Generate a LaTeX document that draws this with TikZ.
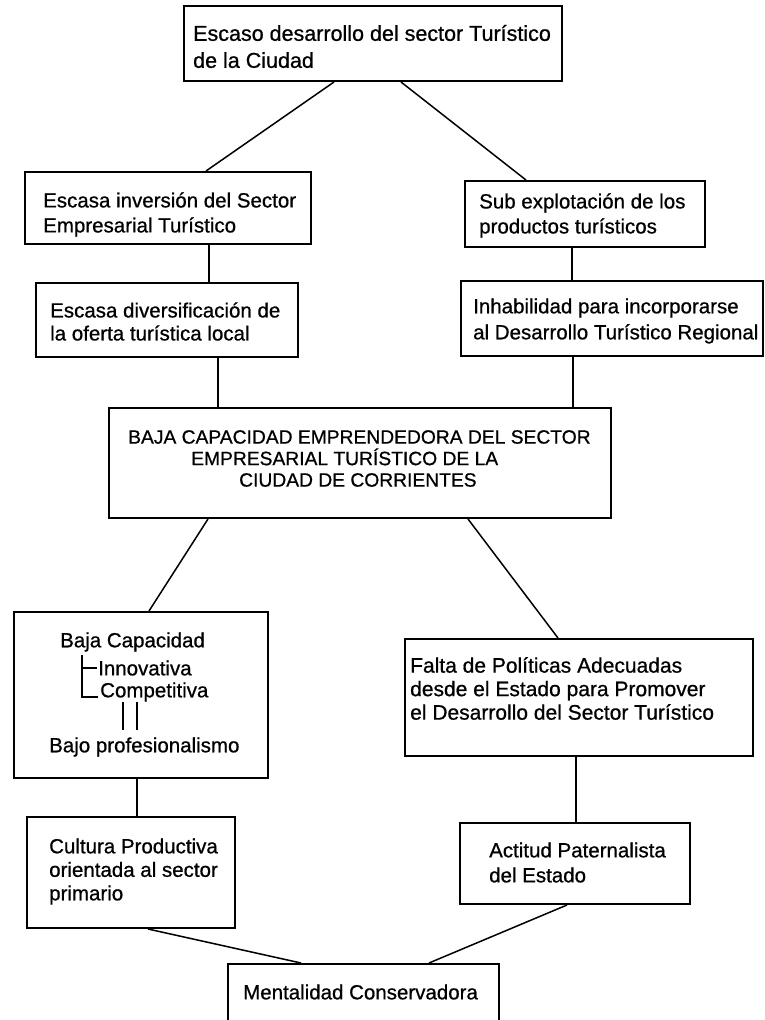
\documentclass[tikz,border=0pt]{standalone}
\usepackage{fontspec}
\setmainfont{Liberation Sans}[FakeBold=0.7]
\begin{document}
\begin{tikzpicture}[x=1pt,y=-1pt,
  box/.style={draw, line width=2pt, rectangle, inner sep=0pt, anchor=north west},
  txt/.style={anchor=west, inner sep=0pt, align=left, font=\fontsize{20.5}{25}\selectfont},
  capstxt/.style={anchor=west, inner sep=0pt, align=left, font=\fontsize{19.25}{21.5}\selectfont},
  link/.style={line width=1.5pt},
  treeline/.style={line width=1.5pt}]
\clip (0,0) rectangle (764,1020);
\fill[white] (0,0) rectangle (764,1020);
% boxes
\node[box, minimum width=378pt, minimum height=75pt] (top) at (183,5) {};
\node[box, minimum width=286pt, minimum height=72pt] (inv) at (24,171) {};
\node[box, minimum width=262pt, minimum height=74pt] (div) at (35,282) {};
\node[box, minimum width=240pt, minimum height=66pt] (sub) at (464,180) {};
\node[box, minimum width=302pt, minimum height=75pt] (inh) at (460,280) {};
\node[box, minimum width=502pt, minimum height=110pt] (cen) at (108,407) {};
\node[box, minimum width=254pt, minimum height=166pt] (baja) at (13,611) {};
\node[box, minimum width=348pt, minimum height=117pt] (falta) at (404,638) {};
\node[box, minimum width=208pt, minimum height=111pt] (cult) at (26,816) {};
\node[box, minimum width=230pt, minimum height=81pt] (acti) at (459,822) {};
\node[box, minimum width=271pt, minimum height=80pt] (ment) at (227,963) {};
% texts
\node[txt, font=\fontsize{21.5}{27}\selectfont] (ttop) at (193,46.5) {Escaso desarrollo del sector Turístico\\de la Ciudad};
\node[txt] (tinv) at (43,214.5) {Escasa inversión del Sector\\Empresarial Turístico};
\node[txt, font=\fontsize{20.5}{23}\selectfont] (tdiv) at (50,321.5) {Escasa diversificación de\\la oferta turística local};
\node[txt] (tsub) at (479,215.5) {Sub explotación de los\\productos turísticos};
\node[txt, font=\fontsize{20.5}{26}\selectfont] (tinh) at (473,321) {Inhabilidad para incorporarse\\al Desarrollo Turístico Regional};
\node[capstxt] (tcen) at (128,458.5) {BAJA CAPACIDAD EMPRENDEDORA DEL SECTOR\\\hspace*{63pt}EMPRESARIAL TURÍSTICO DE LA\\\hspace*{111pt}CIUDAD DE CORRIENTES};
\node[txt] (tbaja) at (60,642) {Baja Capacidad};
\node[txt] (tinn) at (98,668) {Innovativa};
\node[txt] (tcomp) at (100,692) {Competitiva};
\node[txt] (tprof) at (49,747) {Bajo profesionalismo};
\node[txt, font=\fontsize{21}{23.5}\selectfont] (tfalta) at (410,688.5) {Falta de Políticas Adecuadas\\desde el Estado para Promover\\el Desarrollo del Sector Turístico};
\node[txt, font=\fontsize{20.5}{23.5}\selectfont] (tcult) at (49,871.5) {Cultura Productiva\\orientada al sector\\primario};
\node[txt] (tacti) at (489,862.5) {Actitud Paternalista\\del Estado};
\node[txt] (tment) at (243,992) {Mentalidad Conservadora};
% tree lines inside the Baja Capacidad box
\draw[treeline] (82,655) -- (82,697) -- (98,697);
\draw[treeline] (82,668) -- (97,668);
\draw[treeline] (123,702) -- (123,730);
\draw[treeline] (137,702) -- (137,730);
% connectors
\draw[link] ([xshift=-39pt]top.south) -- ([xshift=38pt]inv.north);
\draw[link] ([xshift=28pt]top.south) -- ([xshift=-59pt]sub.north);
\draw[link] ([xshift=41pt]inv.south) -- ([xshift=42pt]div.north);
\draw[link] ([xshift=51pt]div.south) -- ([xshift=-142pt]cen.north);
\draw[link] ([xshift=-13pt]sub.south) -- ([xshift=-40pt]inh.north);
\draw[link] ([xshift=-39pt]inh.south) -- ([xshift=213pt]cen.north);
\draw[link] ([xshift=-152pt]cen.south) -- ([xshift=8pt]baja.north);
\draw[link] ([xshift=108pt]cen.south) -- ([xshift=-21pt]falta.north);
\draw[link] ([xshift=-4pt]baja.south) -- ([xshift=6pt]cult.north);
\draw[link] ([xshift=-3pt]falta.south) -- ([xshift=1pt]acti.north);
\draw[link] ([xshift=17pt]cult.south) -- ([xshift=-62.5pt]ment.north);
\draw[link] ([xshift=-8pt]acti.south) -- ([xshift=65.5pt]ment.north);
\end{tikzpicture}
\end{document}
